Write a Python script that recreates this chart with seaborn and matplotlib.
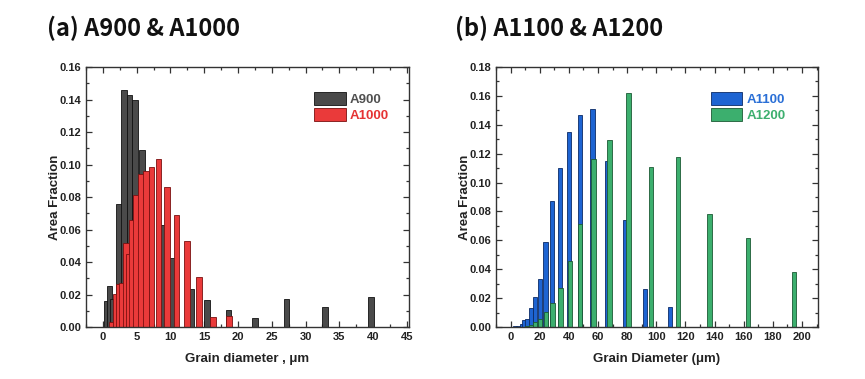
import numpy as np
import pandas as pd
import matplotlib.pyplot as plt
import seaborn as sns
from matplotlib.ticker import MultipleLocator

# Values (bin centre, area fraction)
a900_x = [0.6, 1.0, 1.4, 2.4, 3.15, 3.95, 4.75, 5.8, 6.85, 8.8, 10.25, 13.1, 15.4, 18.6, 22.5, 27.2, 32.9, 39.7]
a900_y = [0.0158, 0.0255, 0.017, 0.0755, 0.146, 0.143, 0.140, 0.109, 0.075, 0.0628, 0.0422, 0.0235, 0.0165, 0.0105, 0.0058, 0.0171, 0.0126, 0.0187]

a1000_x = [1.4, 1.85, 2.3, 2.8, 3.4, 3.85, 4.35, 4.95, 5.6, 6.4, 7.2, 8.25, 9.5, 10.9, 12.45, 14.2, 16.3, 18.65]
a1000_y = [0.003, 0.0206, 0.0265, 0.0272, 0.052, 0.045, 0.0658, 0.0813, 0.094, 0.0963, 0.0983, 0.1035, 0.0862, 0.0692, 0.0529, 0.031, 0.0062, 0.007]

a1100_x = [3.1, 5.4, 7.7, 9.5, 11.2, 13.9, 16.7, 20.0, 24.0, 28.6, 33.8, 40.0, 47.6, 56.2, 66.2, 78.6, 92.4, 109.3]
a1100_y = [0.0005, 0.001, 0.0023, 0.005, 0.0053, 0.0135, 0.0206, 0.0335, 0.0587, 0.0873, 0.110, 0.135, 0.1465, 0.1507, 0.1150, 0.0741, 0.026, 0.0139]

a1200_x = [11.2, 13.9, 16.9, 20.2, 24.2, 28.8, 34.3, 40.6, 47.7, 57.0, 67.8, 81.0, 96.2, 114.7, 136.4, 162.9, 194.6]
a1200_y = [0.0008, 0.0017, 0.0035, 0.0058, 0.0102, 0.0168, 0.0268, 0.046, 0.0712, 0.1165, 0.1297, 0.1623, 0.111, 0.1177, 0.0783, 0.0618, 0.0384]

sns.set_theme(style="ticks")
plt.rcParams["font.family"] = ["Liberation Sans", "DejaVu Sans"]
plt.rcParams["font.weight"] = "bold"
plt.rcParams["axes.labelweight"] = "bold"


def draw_bars(ax, x, y, bar_w, color, edge, label):
    df = pd.DataFrame({"x": x, "y": y})
    spacing = np.diff(np.sort(df["x"].values)).min()
    sns.barplot(data=df, x="x", y="y", native_scale=True, width=bar_w / spacing,
                color=color, edgecolor=edge, linewidth=0.6, saturation=1,
                errorbar=None, label=label, ax=ax)


def style_axes(ax, xlim, ylim, xmaj, ymaj, xlabel):
    ax.set_xlim(*xlim)
    ax.set_ylim(*ylim)
    ax.xaxis.set_major_locator(MultipleLocator(xmaj))
    ax.xaxis.set_minor_locator(MultipleLocator(xmaj / 2))
    ax.yaxis.set_major_locator(MultipleLocator(ymaj))
    ax.yaxis.set_minor_locator(MultipleLocator(ymaj / 2))
    ax.yaxis.set_major_formatter(lambda v, p: f"{v:.2f}")
    ax.xaxis.set_major_formatter(lambda v, p: f"{v:g}")
    ax.tick_params(which="both", direction="in", top=True, right=True,
                   colors="#333333", labelcolor="#222222", labelsize=8, width=0.9)
    ax.tick_params(which="major", length=4)
    ax.tick_params(which="minor", length=2.5)
    for lab in ax.get_xticklabels() + ax.get_yticklabels():
        lab.set_fontweight("bold")
    for s in ax.spines.values():
        s.set_color("#333333")
        s.set_linewidth(1.0)
        s.set_visible(True)
    ax.set_xlabel(xlabel, fontsize=9.5, fontweight="bold", color="#222222", labelpad=8)
    ax.set_ylabel("Area Fraction", fontsize=9.5, fontweight="bold", color="#222222", labelpad=-1)


def add_legend(ax, anchor, colors):
    leg = ax.legend(loc="upper left", bbox_to_anchor=anchor, frameon=False,
                    borderpad=0, borderaxespad=0, handlelength=2.4, handleheight=1.2,
                    labelspacing=0.12, handletextpad=0.3,
                    prop={"weight": "bold", "size": 9.5})
    for t, c in zip(leg.get_texts(), colors):
        t.set_color(c)


fig = plt.figure(figsize=(8.65, 3.79), dpi=100)
ax1 = fig.add_axes([0.0994, 0.1372, 0.3734, 0.686])
ax2 = fig.add_axes([0.5734, 0.1372, 0.3723, 0.686])

# (a) A900 & A1000
draw_bars(ax1, a900_x, a900_y, 0.8, "#4a4a4a", "#111111", "A900")
draw_bars(ax1, a1000_x, a1000_y, 0.85, "#ea3a3a", "#7a1010", "A1000")
style_axes(ax1, (-2.5, 45.3), (0, 0.16), 5, 0.02, "Grain diameter , μm")
add_legend(ax1, (0.706, 0.904), ["#505050", "#e53333"])

# (b) A1100 & A1200
draw_bars(ax2, a1100_x, a1100_y, 3.0, "#1e64d2", "#0b2a66", "A1100")
draw_bars(ax2, a1200_x, a1200_y, 3.0, "#3caf6e", "#1b5a34", "A1200")
style_axes(ax2, (-10, 211), (0, 0.18), 20, 0.02, "Grain Diameter (μm)")
add_legend(ax2, (0.667, 0.904), ["#2a6fd6", "#3caf6e"])

title_font = ["Noto Sans CJK KR", "DejaVu Sans"]
fig.text(47 / 865, 1 - 28 / 379, "(a) A900 & A1000", fontsize=17, fontweight="bold",
         family=title_font, ha="left", va="center", color="#111111")
fig.text(455 / 865, 1 - 28 / 379, "(b) A1100 & A1200", fontsize=17, fontweight="bold",
         family=title_font, ha="left", va="center", color="#111111")

fig.savefig("out.png", dpi=100, facecolor="white")
